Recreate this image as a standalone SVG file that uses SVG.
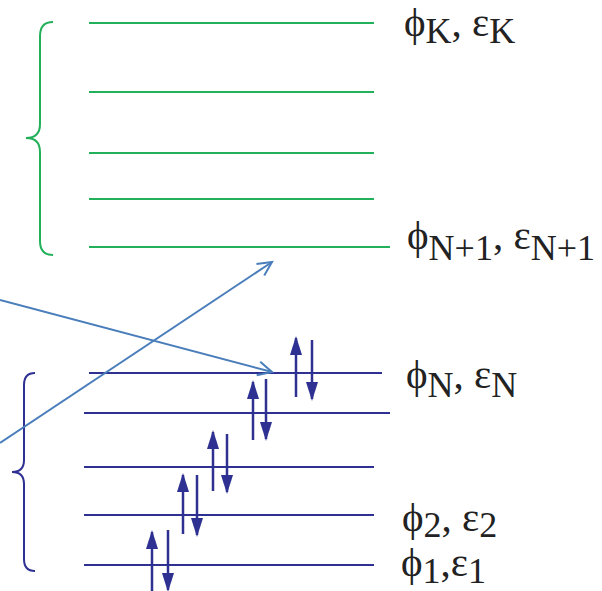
<svg xmlns="http://www.w3.org/2000/svg" width="602" height="591" viewBox="0 0 602 591">
<defs>
<style>
.g{stroke:#22b05a;stroke-width:2;fill:none}
.b{stroke:#2e3192;stroke-width:2;fill:none}
.c{stroke:#4a7ebb;stroke-width:2;fill:none}
.s{stroke:#2e3192;stroke-width:2.5;fill:none}
.lbl{font-family:"Liberation Serif","Times New Roman",serif;font-size:41px;fill:#222}
.sub{font-size:36px}
</style>
<marker id="open" markerUnits="userSpaceOnUse" markerWidth="20" markerHeight="20" refX="15" refY="8" orient="auto" viewBox="0 0 20 16">
<path d="M1,1 L15,8 L1,15" fill="none" stroke="#4a7ebb" stroke-width="2"/>
</marker>
<marker id="spin" markerUnits="userSpaceOnUse" markerWidth="19" markerHeight="12" refX="17" refY="6" orient="auto" viewBox="0 0 19 12">
<path d="M0,0 L19,6 L0,12 z" fill="#2e3192"/>
</marker>
</defs>

<g id="virtual-orbitals">
<path class="g" d="M53,22 Q40,22 40,36 L40,124 Q40,138 26,138 Q40,138 40,152 L40,241 Q40,255 53,255"/>
<line class="g" x1="89" y1="23" x2="374" y2="23"/>
<line class="g" x1="89" y1="92" x2="374" y2="92"/>
<line class="g" x1="89" y1="153" x2="374" y2="153"/>
<line class="g" x1="89" y1="199" x2="374" y2="199"/>
<line class="g" x1="89" y1="247" x2="390" y2="247"/>
<text class="lbl" x="404" y="36">ϕ<tspan class="sub" dy="7">K</tspan><tspan dy="-7">, ε</tspan><tspan class="sub" dy="7">K</tspan></text>
<text class="lbl" x="407" y="249" textLength="188">ϕ<tspan class="sub" dy="11">N+1</tspan><tspan dy="-11">, ε</tspan><tspan class="sub" dy="11">N+1</tspan></text>
</g>

<g id="occupied-orbitals">
<path class="b" d="M35,373 Q24,373 24,385 L24,460 Q24,472 12,472 Q24,472 24,484 L24,559 Q24,571 35,571"/>
<line class="b" x1="89" y1="373" x2="382" y2="373"/>
<line class="b" x1="84" y1="413" x2="390" y2="413"/>
<line class="b" x1="84" y1="467" x2="374" y2="467"/>
<line class="b" x1="84" y1="515" x2="374" y2="515"/>
<line class="b" x1="84" y1="565" x2="374" y2="565"/>
<text class="lbl" x="406" y="388">ϕ<tspan class="sub" dy="9">N</tspan><tspan dy="-9">, ε</tspan><tspan class="sub" dy="9">N</tspan></text>
<text class="lbl" x="402" y="531">ϕ<tspan class="sub" dy="6">2</tspan><tspan dy="-6">, ε</tspan><tspan class="sub" dy="6">2</tspan></text>
<text class="lbl" x="401" y="576">ϕ<tspan class="sub" dy="7">1</tspan><tspan dy="-7">,ε</tspan><tspan class="sub" dy="7">1</tspan></text>
</g>

<g id="electrons">
<line class="s" x1="296" y1="397" x2="296" y2="338" marker-end="url(#spin)"/>
<line class="s" x1="312" y1="340" x2="312" y2="399" marker-end="url(#spin)"/>
<line class="s" x1="253" y1="440" x2="253" y2="382" marker-end="url(#spin)"/>
<line class="s" x1="266" y1="379" x2="266" y2="439" marker-end="url(#spin)"/>
<line class="s" x1="213" y1="491" x2="213" y2="432" marker-end="url(#spin)"/>
<line class="s" x1="227" y1="434" x2="227" y2="492" marker-end="url(#spin)"/>
<line class="s" x1="183" y1="534" x2="183" y2="475" marker-end="url(#spin)"/>
<line class="s" x1="197" y1="475" x2="197" y2="535" marker-end="url(#spin)"/>
<line class="s" x1="152" y1="591" x2="152" y2="532" marker-end="url(#spin)"/>
<line class="s" x1="168" y1="530" x2="168" y2="590" marker-end="url(#spin)"/>
</g>

<g id="connectors">
<line class="c" x1="0" y1="300" x2="272" y2="372" marker-end="url(#open)"/>
<line class="c" x1="0" y1="443" x2="272" y2="262" marker-end="url(#open)"/>
</g>
</svg>
